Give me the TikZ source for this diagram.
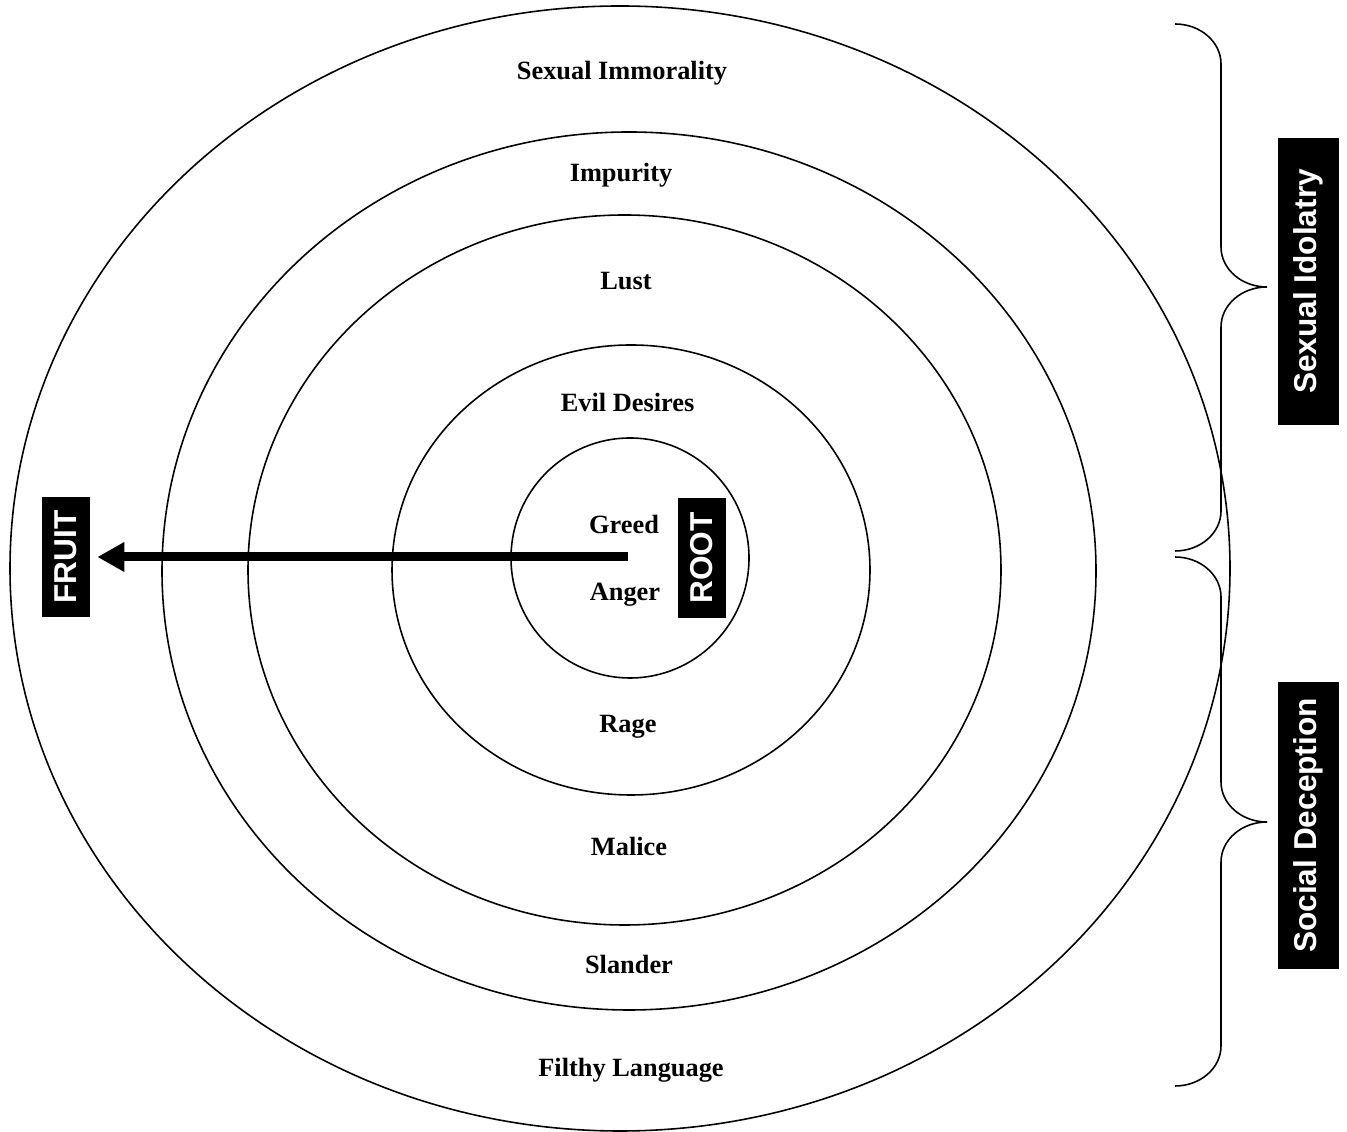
\documentclass[tikz,border=0pt]{standalone}
\usepackage{fontspec}
\setmainfont{Liberation Serif}
\newfontfamily\labelfont{Liberation Sans}
\usetikzlibrary{arrows.meta}

\tikzset{
    ring/.style={draw, line width=0.9pt},
    word/.style={anchor=base, inner sep=0pt, font=\bfseries\fontsize{15}{18}\selectfont},
    blackbox/.style={fill=black, text=white, rotate=90, inner sep=0pt,
        font=\labelfont\bfseries\fontsize{18}{20}\selectfont},
    bracepath/.style={draw, line width=0.9pt}
}

\begin{document}
\begin{tikzpicture}[]
                \useasboundingbox (0cm,0cm) rectangle (26.94cm,22.64cm);

                % draw the rings
                \draw[ring] (12.40cm,11.27cm) ellipse [x radius=12.20cm, y radius=11.25cm];
                \draw[ring] (12.58cm,11.22cm) ellipse [x radius=9.34cm, y radius=8.78cm];
                \draw[ring] (12.49cm,11.24cm) ellipse [x radius=7.53cm, y radius=7.10cm];
                \draw[ring] (12.62cm,11.24cm) ellipse [x radius=4.78cm, y radius=4.50cm];
                \draw[ring] (12.60cm,11.48cm) ellipse [x radius=2.38cm, y radius=2.40cm];

                % ring labels
                \node[word] (immorality) at (12.44cm,21.04cm) {Sexual Immorality};
                \node[word] (impurity) at (12.42cm,19.00cm) {Impurity};
                \node[word] (lust) at (12.52cm,16.84cm) {Lust};
                \node[word] (desires) at (12.55cm,14.40cm) {Evil Desires};
                \node[word] (greed) at (12.48cm,11.96cm) {Greed};
                \node[word] (anger) at (12.50cm,10.62cm) {Anger};
                \node[word] (rage) at (12.56cm,7.98cm) {Rage};
                \node[word] (malice) at (12.58cm,5.52cm) {Malice};
                \node[word] (slander) at (12.58cm,3.16cm) {Slander};
                \node[word] (filthy) at (12.62cm,1.10cm) {Filthy Language};

                % root and fruit
                \node[blackbox, minimum width=2.40cm, minimum height=0.96cm] (fruit) at (1.32cm,11.50cm) {FRUIT};
                \node[blackbox, minimum width=2.40cm, minimum height=0.96cm] (root) at (14.04cm,11.48cm) {ROOT};
                \coordinate (core) at (12.56cm,11.50cm);
                \draw[-{Triangle[length=0.54cm, width=0.56cm]}, line width=0.18cm, shorten >=0.14cm] (core) -- (fruit.south);

                % braces on the right
                \foreach \ya/\yb/\yc in {22.16/16.90/11.62, 11.50/6.20/0.92}
                {
                    \draw[bracepath] (23.50,\ya) arc[start angle=90, end angle=0, x radius=0.92, y radius=0.8]
                        -- (24.42,\yb+0.8) arc[start angle=180, end angle=270, x radius=0.92, y radius=0.8]
                        arc[start angle=90, end angle=180, x radius=0.92, y radius=0.8]
                        -- (24.42,\yc+0.8) arc[start angle=0, end angle=-90, x radius=0.92, y radius=0.8];
                }

                \node[blackbox, minimum width=5.74cm, minimum height=1.22cm] (idolatry) at (26.17cm,17.01cm) {Sexual Idolatry};
                \node[blackbox, minimum width=5.74cm, minimum height=1.22cm] (deception) at (26.17cm,6.13cm) {Social Deception};

            \end{tikzpicture}
\end{document}
